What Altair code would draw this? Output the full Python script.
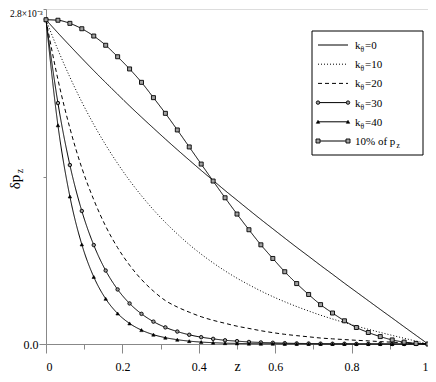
import altair as alt
import pandas as pd

z = [0.0, 0.03125, 0.0625, 0.09375, 0.125, 0.15625, 0.1875, 0.21875, 0.25, 0.28125,
     0.3125, 0.34375, 0.375, 0.40625, 0.4375, 0.46875, 0.5, 0.53125, 0.5625, 0.59375,
     0.625, 0.65625, 0.6875, 0.71875, 0.75, 0.78125, 0.8125, 0.84375, 0.875, 0.90625,
     0.9375, 0.96875, 1.0]

# values in units of 1e-3
k0 = [2.710, 2.600, 2.493, 2.388, 2.285, 2.185, 2.087, 1.990, 1.896, 1.804, 1.713, 1.624,
      1.537, 1.451, 1.367, 1.283, 1.202, 1.121, 1.041, 0.963, 0.885, 0.808, 0.733, 0.657,
      0.583, 0.508, 0.435, 0.362, 0.289, 0.217, 0.144, 0.072, 0.000]
k10 = [2.710, 2.459, 2.231, 2.023, 1.835, 1.664, 1.509, 1.367, 1.239, 1.122, 1.016, 0.920,
       0.831, 0.751, 0.678, 0.611, 0.550, 0.495, 0.443, 0.396, 0.353, 0.313, 0.276, 0.241,
       0.209, 0.179, 0.150, 0.123, 0.097, 0.072, 0.048, 0.024, 0.000]
k20 = [2.710, 2.211, 1.805, 1.472, 1.206, 0.984, 0.805, 0.659, 0.539, 0.442, 0.363, 0.309,
       0.266, 0.228, 0.198, 0.173, 0.149, 0.130, 0.111, 0.095, 0.081, 0.070, 0.060, 0.050,
       0.043, 0.037, 0.031, 0.026, 0.020, 0.015, 0.010, 0.005, 0.000]
k30 = [2.710, 2.014, 1.496, 1.112, 0.827, 0.614, 0.456, 0.339, 0.252, 0.187, 0.139, 0.104,
       0.077, 0.057, 0.043, 0.031, 0.024, 0.017, 0.013, 0.010, 0.007, 0.005, 0.004, 0.003,
       0.002, 0.002, 0.001, 0.001, 0.001, 0.000, 0.000, 0.000, 0.000]
k40 = [2.710, 1.828, 1.233, 0.832, 0.561, 0.378, 0.255, 0.172, 0.116, 0.078, 0.053, 0.036,
       0.024, 0.016, 0.011, 0.007, 0.005, 0.003, 0.002, 0.002, 0.001, 0.001, 0.000, 0.000,
       0.000, 0.000, 0.000, 0.000, 0.000, 0.000, 0.000, 0.000, 0.000]
p10 = [2.710, 2.706, 2.680, 2.635, 2.574, 2.497, 2.401, 2.299, 2.187, 2.059, 1.928, 1.789,
       1.647, 1.504, 1.362, 1.222, 1.086, 0.955, 0.829, 0.715, 0.604, 0.505, 0.414, 0.329,
       0.259, 0.194, 0.138, 0.096, 0.062, 0.034, 0.016, 0.005, 0.000]

series_names = ["k0", "k10", "k20", "k30", "k40", "p10"]
series_vals = [k0, k10, k20, k30, k40, p10]
dashes = [[1, 0], [1, 2], [4, 3], [1, 0], [1, 0], [1, 0]]
legend_sub = ["=0", "=10", "=20", "=30", "=40"]

x_ticks = [0.0, 0.1, 0.2, 0.3, 0.4, 0.5, 0.6, 0.7, 0.8, 0.9, 1.0]
y_ticks = [0.0, 1.4, 2.8]

rows = []
for name, vals in zip(series_names, series_vals):
    for zz, v in zip(z, vals):
        rows.append({"series": name, "z": zz, "v": v})
df = pd.DataFrame(rows)

FONT = "Liberation Serif"
W, H = 382, 335

xenc = alt.X("z:Q", scale=alt.Scale(domain=[0, 1], nice=False, zero=False),
             axis=alt.Axis(values=x_ticks, title="z", grid=False,
                           labelFont=FONT, titleFont=FONT, labelFontSize=12,
                           labelExpr="round(datum.value*10) % 2 == 0 ? (datum.value < 0.001 ? '0' : (datum.value > 0.999 ? '1' : format(datum.value, '.1f'))) : ''",
                           tickSize={"condition": {"test": "round(datum.value*10) % 2 == 0", "value": 9}, "value": 5},
                           labelPadding=8, titleY=26, titleBaseline="alphabetic",
                           titleFontSize=14, titleFontWeight="normal"))
yenc = alt.Y("v:Q", scale=alt.Scale(domain=[0, 2.8], nice=False, zero=False),
             axis=alt.Axis(values=y_ticks, title=None, grid=False,
                           labelFont=FONT,
                           labelExpr="datum.value < 0.01 ? '0.0' : (datum.value > 2.0 ? '2.8×10⁻³' : '')",
                           tickSize={"condition": {"test": "abs(datum.value) < 0.01", "value": 7}, "value": 3},
                           labelFontSize={"condition": {"test": "datum.value > 2.0", "value": 9.5}, "value": 12},
                           labelOffset={"condition": {"test": "datum.value > 2.0", "value": 4}, "value": 0},
                           labelPadding=1))

lines = alt.Chart(df).mark_line(color="black", strokeWidth=1, interpolate="monotone").encode(
    x=xenc, y=yenc,
    strokeDash=alt.StrokeDash("series:N", scale=alt.Scale(domain=series_names, range=dashes), legend=None),
)

marker_style = {
    "k30": dict(shape="circle", size=12, fill="#9a9a9a", stroke="black", strokeWidth=0.9),
    "k40": dict(shape="triangle-up", size=12, fill="black", stroke="black", strokeWidth=0.6),
    "p10": dict(shape="square", size=16, fill="#a0a0a0", stroke="black", strokeWidth=0.9),
}
layers = [lines]
for name, st in marker_style.items():
    layers.append(
        alt.Chart(df[df["series"] == name]).mark_point(filled=True, opacity=1, **st).encode(x=xenc, y=yenc)
    )

one = pd.DataFrame({"a": [0]})

# legend box
LX0, LX1 = 266, 377
layers.append(alt.Chart(one).mark_rect(fill="white", stroke="black", strokeWidth=1).encode(
    x=alt.value(LX0), x2=alt.value(LX1), y=alt.value(22), y2=alt.value(146)))

row_y = [36, 55.2, 74.4, 93.6, 112.8, 132]
SX0, SX1, TX = 272, 302, 309
for i, name in enumerate(series_names):
    py = row_y[i]
    layers.append(alt.Chart(one).mark_rule(color="black", strokeWidth=1, strokeDash=dashes[i]).encode(
        x=alt.value(SX0), x2=alt.value(SX1), y=alt.value(py)))
    if name in marker_style:
        for px in (SX0, SX1):
            layers.append(alt.Chart(one).mark_point(filled=True, opacity=1, **marker_style[name]).encode(
                x=alt.value(px), y=alt.value(py)))
    if i < 5:
        layers.append(alt.Chart(one).mark_text(text="k", align="left", baseline="alphabetic",
                                               font=FONT, fontSize=11).encode(x=alt.value(TX), y=alt.value(py + 4)))
        layers.append(alt.Chart(one).mark_text(text="θ", align="left", baseline="alphabetic",
                                               font=FONT, fontSize=7.5).encode(x=alt.value(TX + 5.5), y=alt.value(py + 7)))
        layers.append(alt.Chart(one).mark_text(text=legend_sub[i], align="left", baseline="alphabetic",
                                               font=FONT, fontSize=11).encode(x=alt.value(TX + 10), y=alt.value(py + 4)))
    else:
        layers.append(alt.Chart(one).mark_text(text="10% of p", align="left", baseline="alphabetic",
                                               font=FONT, fontSize=11).encode(x=alt.value(TX), y=alt.value(py + 4)))
        layers.append(alt.Chart(one).mark_text(text="z", align="left", baseline="alphabetic",
                                               font=FONT, fontSize=7.5).encode(x=alt.value(TX + 41.5), y=alt.value(py + 7)))

# y-axis title δp_z
layers.append(alt.Chart(one).mark_text(text="δp", angle=270, align="center", baseline="alphabetic",
                                       font=FONT, fontSize=15).encode(x=alt.value(-26), y=alt.value(173)))
layers.append(alt.Chart(one).mark_text(text="z", angle=270, align="center", baseline="alphabetic",
                                       font=FONT, fontSize=10).encode(x=alt.value(-23), y=alt.value(162)))

chart = alt.layer(*layers).properties(
    width=W, height=H, autosize="none",
    padding={"left": 38, "top": 1, "right": 0, "bottom": 30},
).configure_view(stroke="black", strokeWidth=1).configure_axis(
    labelFont=FONT, titleFont=FONT, labelColor="black", titleColor="black",
    domainColor="black", tickColor="black", domainWidth=1, tickWidth=1,
).configure(background="white")

chart.save("out.html", embed_options={"renderer": "svg", "actions": False})
